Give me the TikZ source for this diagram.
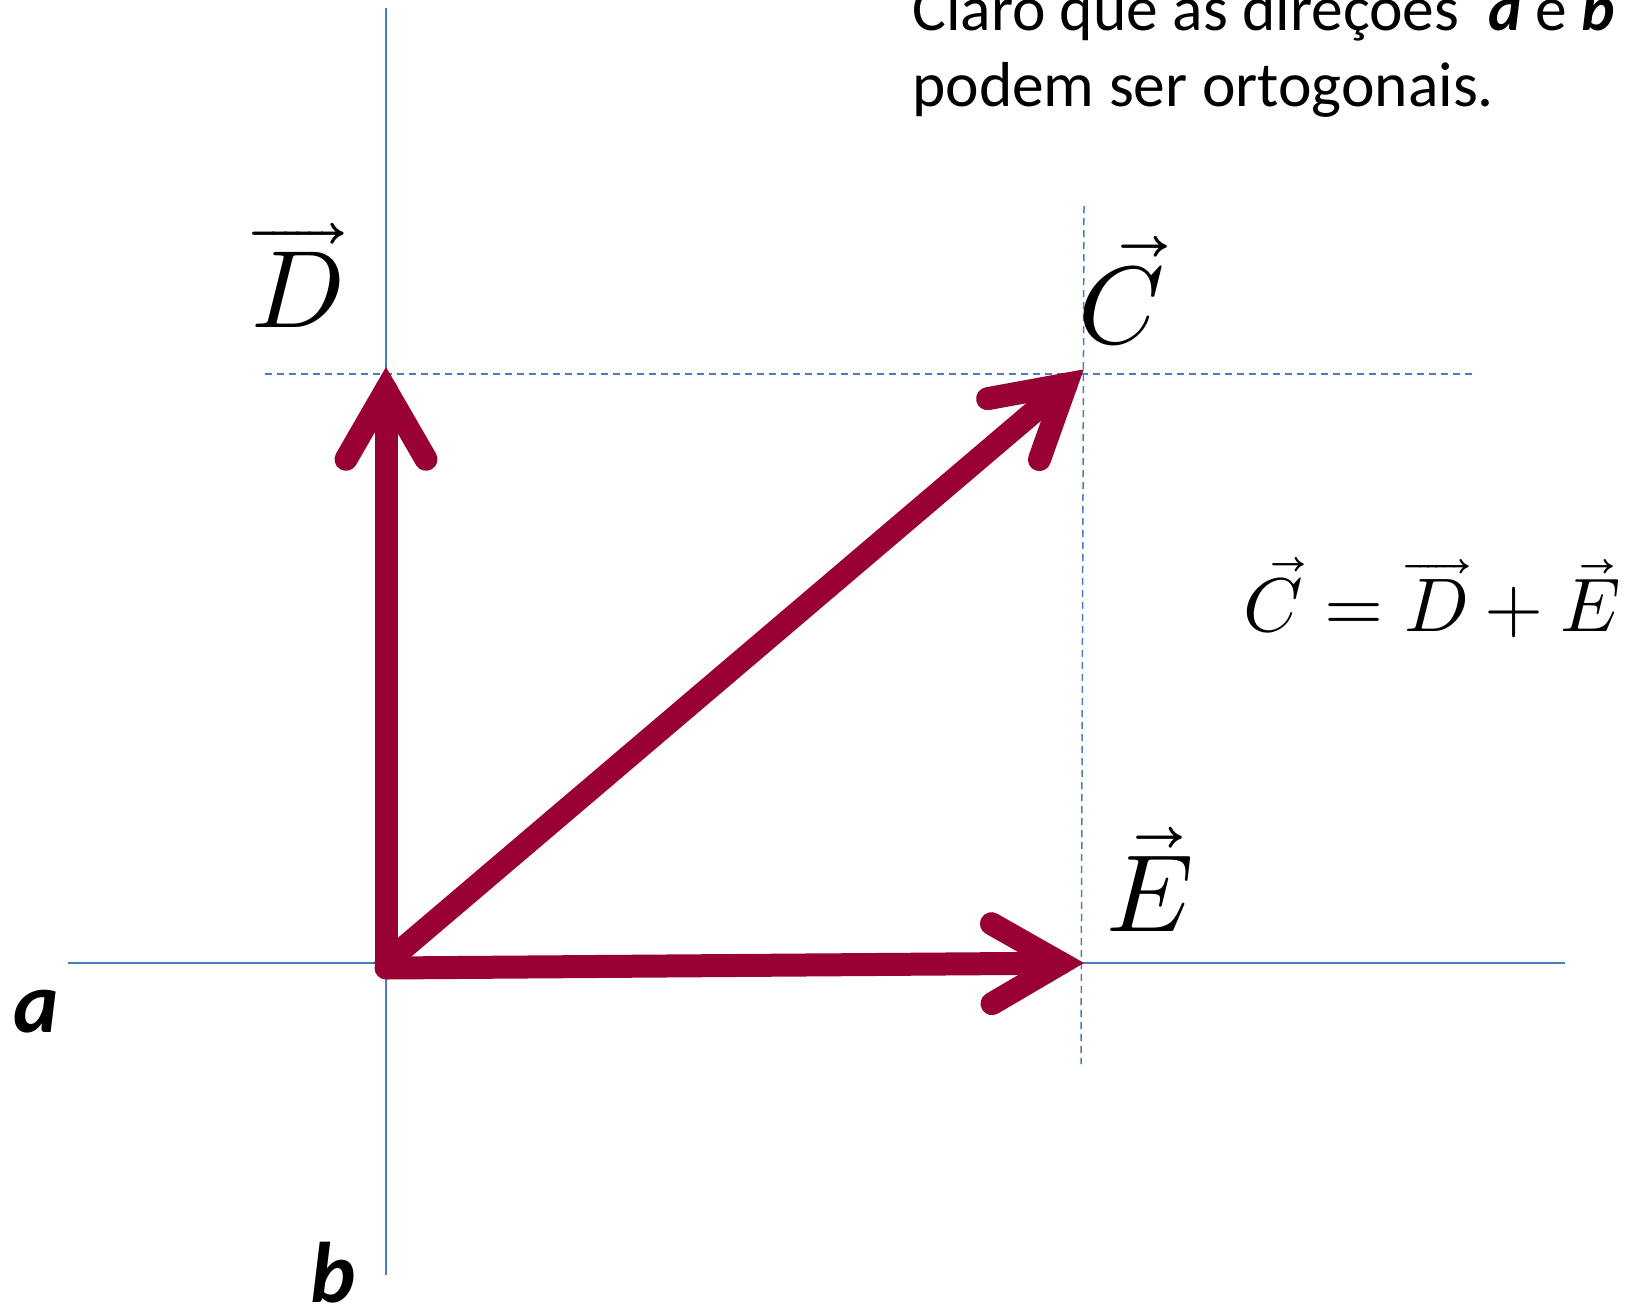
\documentclass[tikz,border=0pt]{standalone}
\usepackage{fontspec}
\usepackage{unicode-math}
\setmainfont{Carlito}
\setmathfont{Latin Modern Math}
\usetikzlibrary{calc}
\definecolor{axisblue}{HTML}{4A7EBB}
\definecolor{vecred}{HTML}{990033}
\newcommand\drawvecarrow[3]{%
  \coordinate (#3) at ($(#2)!22pt!(#1)$);
  \draw[shaft] (#1) -- (#3);
  \draw[barbs] ($(#3)!80pt!30:(#1)$) -- (#3) -- ($(#3)!80pt!-30:(#1)$);}
\begin{document}
\begin{tikzpicture}[x=1pt,y=-1pt,
  axis/.style={axisblue, line width=1.5pt},
  guide/.style={axisblue, line width=1.5pt, dash pattern=on 7pt off 5pt},
  shaft/.style={vecred, line width=23pt, line cap=round},
  barbs/.style={vecred, line width=23pt, line cap=round, line join=miter},
  veclabel/.style={font=\fontsize{110}{120}\selectfont, inner sep=0pt, anchor=base},
  axlabel/.style={font=\fontsize{86}{90}\selectfont\bfseries\itshape, inner sep=0pt, anchor=base west},
  txt/.style={font=\fontsize{63.5}{76}\selectfont, inner sep=0pt, anchor=base west}]
\useasboundingbox (0,0) rectangle (1641,1307);
\fill[white] (0,0) rectangle (1641,1307);
\begin{scope}
\clip (0,0) rectangle (1641,1307);
% points
\coordinate (O) at (386,963);
\coordinate (Ot) at (386,968);
\coordinate (Dt) at (386,368);
\coordinate (Ct) at (1083,370);
\coordinate (Et) at (1083,963);
\coordinate (bTop) at (386,8);
\coordinate (bBot) at (386,1275);
\coordinate (aL) at (68,963);
\coordinate (aR) at (1565,963);
\coordinate (hL) at (265,374);
\coordinate (hR) at (1476,374);
\coordinate (vT) at (1084,206);
\coordinate (vB) at (1081,1064);
% axes and guides
\draw[axis] (bTop) -- (bBot);
\draw[axis] (aL) -- (aR);
\draw[guide] (hL) -- (hR);
\draw[guide] (vT) -- (vB);
% vectors
\drawvecarrow{O}{Dt}{Dv}
\drawvecarrow{O}{Ct}{Cv}
\drawvecarrow{Ot}{Et}{Ev}
% labels
\node[veclabel] (Dlab) at (297,327) {$\overrightarrow{D}$};
\node[veclabel] (Clab) at (1122,343) {$\vec{C}$};
\node[veclabel] (Elab) at (1150,931) {$\vec{E}$};
\node[font=\fontsize{76}{80}\selectfont, inner sep=0pt, anchor=base] (eq) at (1432,631) {$\vec{C}=\overrightarrow{D}+\vec{E}$};
\node[txt] (t1) at (912,30) {Claro que as direções\ \ \textbf{\textit{a}} e \textbf{\textit{b}}};
\node[txt] (t2) at (912,106) {podem ser ortogonais.};
\node[axlabel] (alab) at (13,1032) {a};
\node[axlabel] (blab) at (310,1302) {b};
\end{scope}
\end{tikzpicture}
\end{document}
